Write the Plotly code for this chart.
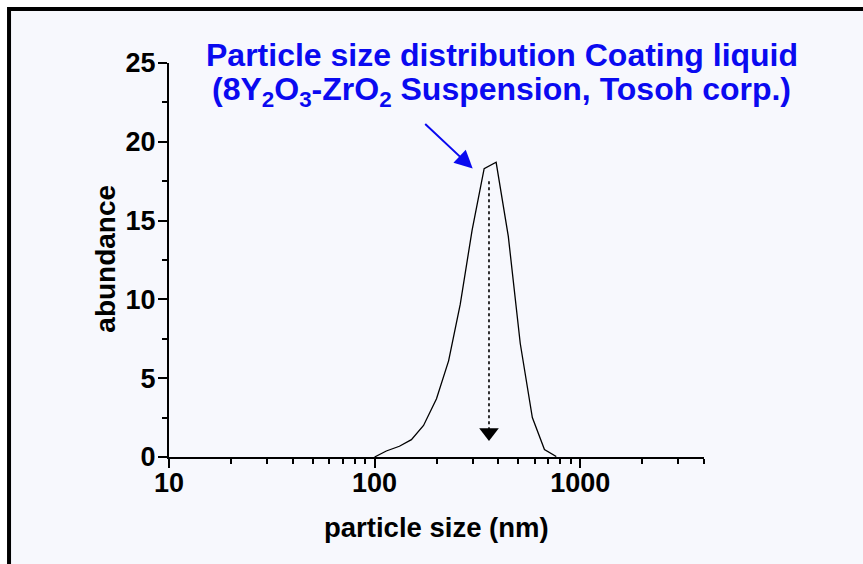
import numpy as np
import plotly.graph_objects as go

# Particle size distribution (size in nm, abundance in %)
size_nm = [100, 114, 132, 151, 173, 200, 229, 261, 298, 341, 390, 447, 511, 585, 670, 765]
abundance = [0, 0.38, 0.68, 1.1, 2.0, 3.7, 6.1, 9.7, 14.4, 18.3, 18.7, 14.0, 7.2, 2.5, 0.47, 0.03]

# Median marker (dotted drop line)
median_nm = 360
median_top = 17.5
median_bottom = 1.55

x_major = [10, 100, 1000]
x_minor = [20, 30, 40, 50, 60, 70, 80, 90,
           200, 300, 400, 500, 600, 700, 800, 900,
           2000, 3000, 4000]
x_range = [10, 4000]
y_range = [0, 25]

FONT = "Arial, Liberation Sans, sans-serif"
BLUE = "#0a0af0"
BG = "#f7f8fd"

fig = go.Figure()

fig.add_trace(go.Scatter(
    x=size_nm, y=abundance, mode="lines",
    line=dict(color="black", width=1.3),
    showlegend=False, hoverinfo="skip",
))

# dotted drop line with a filled arrowhead
fig.add_trace(go.Scatter(
    x=[median_nm, median_nm], y=[median_top, median_bottom], mode="lines",
    line=dict(color="black", width=1.6, dash="dot"),
    showlegend=False, hoverinfo="skip",
))
fig.add_trace(go.Scatter(
    x=[median_nm], y=[median_bottom], mode="markers",
    marker=dict(symbol="triangle-down", size=17, color="black", line=dict(width=0)),
    showlegend=False, hoverinfo="skip",
))

# framed background
fig.add_shape(type="rect", xref="paper", yref="paper",
              x0=-0.299, x1=1.6, y0=-0.5, y1=1.137,
              fillcolor=BG, line=dict(color="black", width=4), layer="below")

fig.add_annotation(
    x=0.6222, y=1.0203, xref="paper", yref="paper",
    text="<b>Particle size distribution Coating liquid</b>",
    showarrow=False, xanchor="center", yanchor="middle",
    font=dict(family=FONT, size=32, color=BLUE),
)
fig.add_annotation(
    x=0.6222, y=0.9264, xref="paper", yref="paper",
    text="<b>(8Y<sub>2</sub>O<sub>3</sub>-ZrO<sub>2</sub> Suspension, Tosoh corp.)</b>",
    showarrow=False, xanchor="center", yanchor="middle",
    font=dict(family=FONT, size=32, color=BLUE),
)

# pointer from the label to the peak
fig.add_annotation(
    x=np.log10(300), y=18.3, xref="x", yref="y",
    ax=-49, ay=-46, axref="pixel", ayref="pixel",
    text="", showarrow=True, arrowhead=2, arrowsize=1.8, arrowwidth=2,
    arrowcolor=BLUE, standoff=0,
)

# axis titles
fig.add_annotation(
    x=0.5, y=-0.178, xref="paper", yref="paper",
    text="particle size (nm)", showarrow=False,
    xanchor="center", yanchor="middle",
    font=dict(family=FONT, size=27.5, color="black", weight="bold"),
)
fig.add_annotation(
    x=-0.118, y=0.503, xref="paper", yref="paper",
    text="abundance", showarrow=False, textangle=-90,
    xanchor="center", yanchor="middle",
    font=dict(family=FONT, size=28, color="black", weight="bold"),
)

fig.update_xaxes(
    type="log", range=[np.log10(x_range[0]), np.log10(x_range[1])],
    tickvals=x_major, ticktext=[str(v) for v in x_major],
    ticks="outside", ticklen=9, tickwidth=2, tickcolor="black",
    minor=dict(tickvals=x_minor, ticks="outside", ticklen=5, tickwidth=1.5, tickcolor="black"),
    showline=True, linewidth=2, linecolor="black",
    showgrid=False, zeroline=False, ticklabelstandoff=-8,
    tickfont=dict(family=FONT, size=27, color="black", weight="bold"),
)
fig.update_yaxes(
    range=y_range, dtick=5,
    ticks="outside", ticklen=9, tickwidth=2, tickcolor="black",
    minor=dict(dtick=2.5, ticks="outside", ticklen=5, tickwidth=1.5, tickcolor="black"),
    showline=True, linewidth=2, linecolor="black",
    showgrid=False, zeroline=False, ticklabelstandoff=-3,
    tickfont=dict(family=FONT, size=27, color="black", weight="bold"),
)

fig.update_layout(
    width=863, height=564,
    margin=dict(l=169, r=159, t=63, b=107),
    paper_bgcolor="white", plot_bgcolor=BG,
    showlegend=False,
)

fig.write_html("out.html")
